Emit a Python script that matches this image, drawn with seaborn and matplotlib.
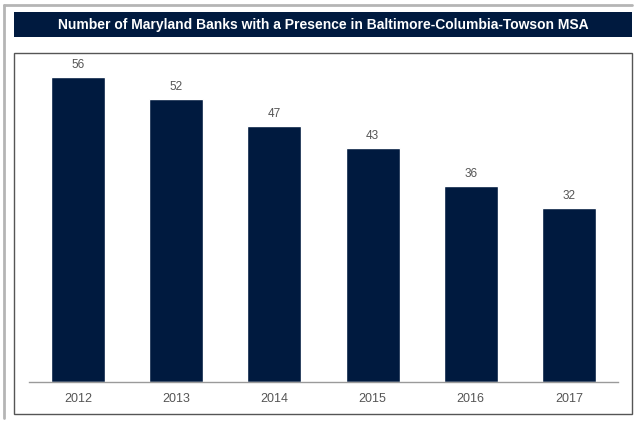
import matplotlib
matplotlib.use("Agg")
import matplotlib.pyplot as plt
import seaborn as sns
import pandas as pd
from matplotlib.patches import Rectangle
from matplotlib.lines import Line2D

# data
years = ["2012", "2013", "2014", "2015", "2016", "2017"]
banks = [56, 52, 47, 43, 36, 32]

navy = "#001a3f"
text_gray = "#555555"

sns.set_style("white")
plt.rcParams["font.family"] = ["Liberation Sans", "DejaVu Sans"]

W, H = 640, 425
fig = plt.figure(figsize=(6.4, 4.25), dpi=100)

# axes placed in pixel terms
left, right, bottom, top = 29, 618, 382, 53
ax = fig.add_axes([left / W, 1 - bottom / H, (right - left) / W, (bottom - top) / H])

df = pd.DataFrame({"year": years, "banks": banks})
sns.barplot(data=df, x="year", y="banks", color=navy, saturation=1, width=0.55, ax=ax)

ax.set_xlim(-0.5, 5.5)
ax.set_ylim(0, 60.4)
ax.set_xlabel("")
ax.set_ylabel("")
ax.set_yticks([])
for s in ["top", "right", "left"]:
    ax.spines[s].set_visible(False)
ax.spines["bottom"].set_color("#9a9a9a")
ax.spines["bottom"].set_linewidth(1.0)
ax.tick_params(axis="x", length=0, pad=8, labelsize=9, labelcolor=text_gray)
ax.patch.set_alpha(0)

for i, v in enumerate(banks):
    ax.annotate(str(v), (i, v), xytext=(0, 4), textcoords="offset points",
                ha="center", va="bottom", fontsize=8.5, color=text_gray)


def px_rect(x0, y0, x1, y1, **kw):
    return Rectangle((x0 / W, 1 - y1 / H), (x1 - x0) / W, (y1 - y0) / H,
                     transform=fig.transFigure, **kw)


# outer light frame (top and left only)
fig.add_artist(Line2D([4 / W, 632 / W], [1 - 5 / H, 1 - 5 / H], transform=fig.transFigure,
                      color="#b5b5b5", lw=2))
fig.add_artist(Line2D([4 / W, 4 / W], [1 - 5 / H, 1 - 418 / H], transform=fig.transFigure,
                      color="#b5b5b5", lw=2))

# title banner
fig.add_artist(px_rect(14, 12, 632, 37, facecolor=navy, edgecolor="none"))
fig.text((14 + 632) / 2 / W, 1 - 24.5 / H,
         "Number of Maryland Banks with a Presence in Baltimore-Columbia-Towson MSA",
         ha="center", va="center", color="white", fontsize=10, fontweight="bold")

# chart box
fig.add_artist(px_rect(13.5, 53, 632, 414, facecolor="none", edgecolor="#555555", lw=1))

fig.savefig("out.png", dpi=100, facecolor="white")
